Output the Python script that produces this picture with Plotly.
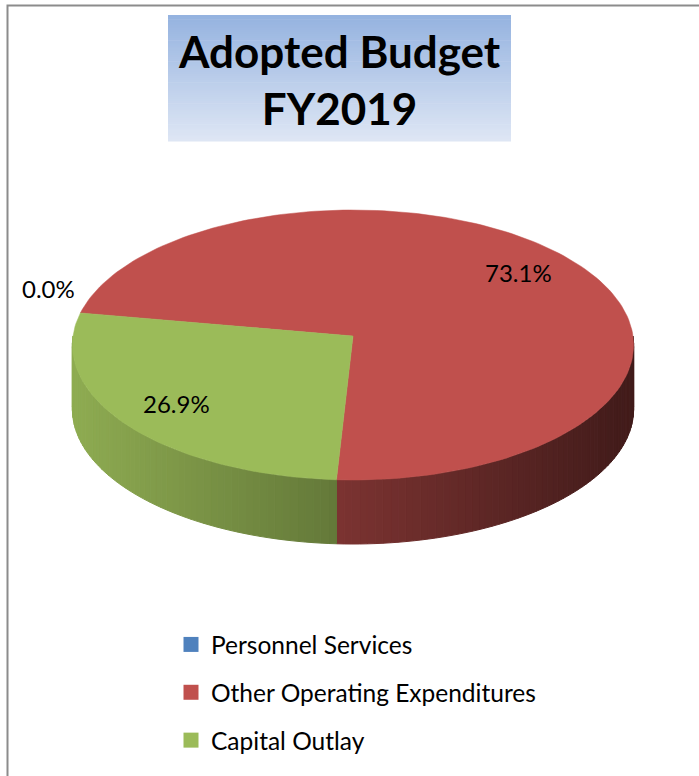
import math
import plotly.graph_objects as go

# ---- chart data ----
categories = ["Personnel Services", "Other Operating Expenditures", "Capital Outlay"]
values = [0.0, 73.1, 26.9]
slice_colors = ["#4F81BD", "#C0504D", "#9BBB59"]
title_lines = ["Adopted Budget", "FY2019"]

FONT = "Lato"
W, H = 699, 776

# ---- 3-D pie geometry (axis units = pixels) ----
CX, CY = 353, 336          # pie centre on the top face
RX, RY = 280, 134.4        # radii of the tilted top face
PERSP = 0.0667             # front of the pie drawn slightly larger than the back
DEPTH = 64                 # thickness of the pie
START = 280                # angle of first slice, clockwise from 12 o'clock
STEP = 1.5


def project(phi, r=1.0, dz=0.0):
    t = math.radians(phi)
    u, v = r * math.sin(t), -r * math.cos(t)
    s = 1.0 / (1.0 - PERSP * v)
    return CX + RX * u * s, CY + RY * v * s + dz


def hex_rgb(h):
    h = h.lstrip("#")
    return tuple(int(h[i:i + 2], 16) for i in (0, 2, 4))


def shade(col, x):
    f = 0.92 - 0.58 * (x - (CX - RX)) / (2 * RX)
    r, g, b = hex_rgb(col)
    return f"rgb({int(r * f)},{int(g * f)},{int(b * f)})"


def arc(a0, a1):
    n = max(1, int(math.ceil((a1 - a0) / STEP)))
    return [a0 + (a1 - a0) * i / n for i in range(n + 1)]


total = sum(values)
spans = []
acc = 0.0
for v in values:
    a0 = START + 360.0 * acc / total
    a1 = a0 + 360.0 * v / total
    spans.append((a0, a1))
    acc += v

fig = go.Figure()

# side wall: only the front half (90..270 deg, repeated every 360) is visible
for (a0, a1), col in zip(spans, slice_colors):
    for k in (0, 360):
        lo, hi = max(a0, 90 + k), min(a1, 270 + k)
        if hi <= lo:
            continue
        pts = arc(lo, hi)
        for p, q in zip(pts[:-1], pts[1:]):
            x1, y1 = project(p)
            x2, y2 = project(q)
            c = shade(col, (x1 + x2) / 2)
            fig.add_trace(go.Scatter(
                x=[x1, x2, x2, x1, x1],
                y=[y1, y2, y2 + DEPTH, y1 + DEPTH, y1],
                mode="lines", fill="toself", fillcolor=c,
                line=dict(color=c, width=1),
                hoverinfo="skip", showlegend=False))

# top faces
for (a0, a1), col, name in zip(spans, slice_colors, categories):
    if a1 - a0 <= 0:
        continue
    xs, ys = [CX], [CY]
    for p in arc(a0, a1):
        x, y = project(p)
        xs.append(x)
        ys.append(y)
    xs.append(CX)
    ys.append(CY)
    fig.add_trace(go.Scatter(
        x=xs, y=ys, mode="lines", fill="toself", fillcolor=col,
        line=dict(color=col, width=0.5), name=name,
        hoverinfo="name", showlegend=False))

# percentage labels
annotations = []
for (a0, a1), v in zip(spans, values):
    mid = (a0 + a1) / 2
    share = 100.0 * v / total
    if share > 0:
        x, y = project(mid, 0.78)
        ys = 0
    else:
        x, y = project(mid, 1.12)
        ys = 22
    annotations.append(dict(x=x, y=y, xref="x", yref="y", text=f"{share:.1f}%",
                            showarrow=False, yshift=ys,
                            font=dict(family=FONT, size=24, color="#000000")))

# legend entries
for i, (name, col) in enumerate(zip(categories, slice_colors)):
    fig.add_trace(go.Scatter(
        x=[None], y=[None], mode="markers", name=name, legendgroup=f"g{i}",
        marker=dict(symbol="square", size=15, color=col)))

# title box with a vertical blue gradient
shapes = []
BX0, BX1, BY0, BY1 = 168, 511, 15, 141
top_c, bot_c = (149, 179, 224), (223, 231, 245)
NB = 60
for i in range(NB):
    t = (i + 0.5) / NB
    c = tuple(int(top_c[j] + (bot_c[j] - top_c[j]) * t) for j in range(3))
    shapes.append(dict(type="rect", xref="x", yref="y", layer="below",
                       x0=BX0, x1=BX1,
                       y0=BY0 + (BY1 - BY0) * i / NB,
                       y1=BY0 + (BY1 - BY0) * (i + 1) / NB + 0.6,
                       fillcolor=f"rgb{c}", line=dict(width=0)))
annotations.append(dict(x=(BX0 + BX1) / 2, y=(BY0 + BY1) / 2 + 1, xref="x", yref="y",
                        text="<b>" + "</b><br><b>".join(title_lines) + "</b>",
                        showarrow=False, align="center",
                        font=dict(family=FONT, size=44, color="#000000")))

# chart area frame (top and left edges)
shapes.append(dict(type="path", xref="x", yref="y",
                   path=f"M 7.5,{H} L 7.5,5.5 L {W},5.5",
                   line=dict(color="#8C8C8C", width=2)))

fig.update_layout(
    width=W, height=H, autosize=False,
    margin=dict(l=0, r=0, t=0, b=0),
    paper_bgcolor="white", plot_bgcolor="white",
    xaxis=dict(range=[0, W], visible=False, fixedrange=True),
    yaxis=dict(range=[H, 0], visible=False, fixedrange=True),
    shapes=shapes, annotations=annotations,
    showlegend=True,
    legend=dict(x=171 / W, y=1 - 622 / H, xanchor="left", yanchor="top",
                font=dict(family=FONT, size=24.5, color="#000000"),
                tracegroupgap=13, bgcolor="rgba(0,0,0,0)"),
)

fig.write_html("out.html")
